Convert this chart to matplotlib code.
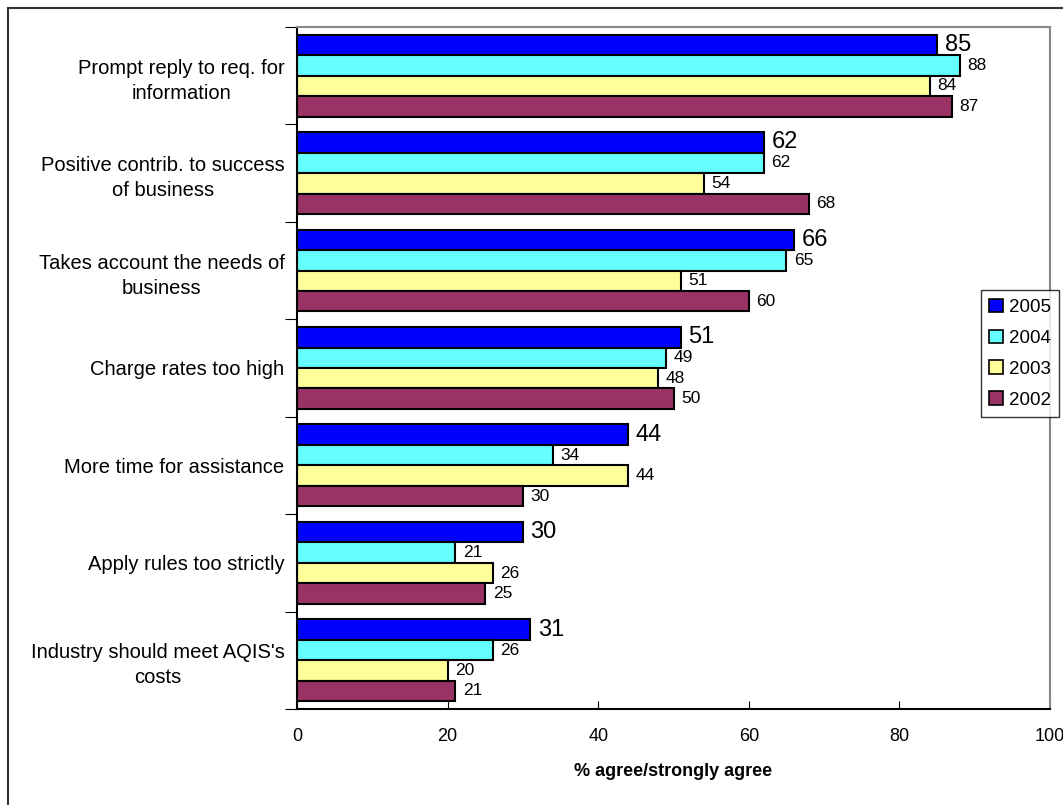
import matplotlib.pyplot as plt
from matplotlib.patches import Rectangle

plt.rcParams['font.family'] = ['Liberation Sans', 'DejaVu Sans']

categories = [
    'Prompt reply to req. for\ninformation',
    'Positive contrib. to success\nof business',
    'Takes account the needs of\nbusiness',
    'Charge rates too high',
    'More time for assistance',
    'Apply rules too strictly',
    "Industry should meet AQIS's\ncosts",
]
years = ['2005', '2004', '2003', '2002']
v2005 = [85, 62, 66, 51, 44, 30, 31]
v2004 = [88, 62, 65, 49, 34, 21, 26]
v2003 = [84, 54, 51, 48, 44, 26, 20]
v2002 = [87, 68, 60, 50, 30, 25, 21]

series = [v2005, v2004, v2003, v2002]
colors = ['#0000FF', '#66FFFF', '#FFFF99', '#993366']

fig = plt.figure(figsize=(10.63, 8.05), dpi=100)
ax = fig.add_axes([0.2794, 0.1193, 0.7084, 0.8472])

bar_h = 0.21
offsets = [-1.5 * bar_h, -0.5 * bar_h, 0.5 * bar_h, 1.5 * bar_h]
pos = list(range(len(categories)))

for i, (vals, col, yr) in enumerate(zip(series, colors, years)):
    ys = [p + offsets[i] for p in pos]
    ax.barh(ys, vals, height=bar_h, color=col, edgecolor='black',
            linewidth=1.5, label=yr)
    fs = 17 if i == 0 else 12.5
    for y, v in zip(ys, vals):
        ax.text(v + 1.0, y, str(v), va='center', ha='left', fontsize=fs)

ax.set_xlim(0, 100)
ax.set_ylim(len(categories) - 0.5, -0.5)
ax.set_xticks([0, 20, 40, 60, 80, 100])
ax.tick_params(axis='x', direction='in', length=6, pad=14, labelsize=13)
ax.set_yticks([p - 0.5 for p in pos] + [len(pos) - 0.5])
ax.set_yticklabels([])
ax.tick_params(axis='y', which='major', direction='out', length=9)
ax.set_yticks(pos, minor=True)
ax.set_yticklabels(categories, minor=True, fontsize=14.5, ha='right',
                   linespacing=1.4)
for lbl in ax.get_yticklabels(minor=True):
    lbl.set_multialignment('center')
ax.tick_params(axis='y', which='minor', length=0, pad=9)

ax.set_xlabel('% agree/strongly agree', fontsize=13, fontweight='bold',
              labelpad=13)

ax.spines['left'].set_linewidth(1.5)
ax.spines['bottom'].set_linewidth(1.5)
ax.spines['top'].set_color('#888888')
ax.spines['right'].set_color('#888888')
ax.spines['top'].set_linewidth(1.5)
ax.spines['right'].set_linewidth(1.5)

leg = ax.legend(loc='upper left', bbox_to_anchor=(0.908, 0.614),
                fontsize=13.5, frameon=True, fancybox=False, edgecolor='black',
                handlelength=0.75, handleheight=0.75, handletextpad=0.3,
                labelspacing=0.72, borderpad=0.45, borderaxespad=0)
leg.get_frame().set_linewidth(1.0)
for h in leg.legend_handles:
    h.set_linewidth(1.2)

# outer frame; its right and bottom edges fall outside the canvas
fig.patches.append(Rectangle((8 / 1063, -0.02), 1.05, 1.02 - 8 / 805,
                             transform=fig.transFigure, fill=False,
                             edgecolor='#333333', linewidth=1.5))

fig.savefig('out.png', dpi=100)
